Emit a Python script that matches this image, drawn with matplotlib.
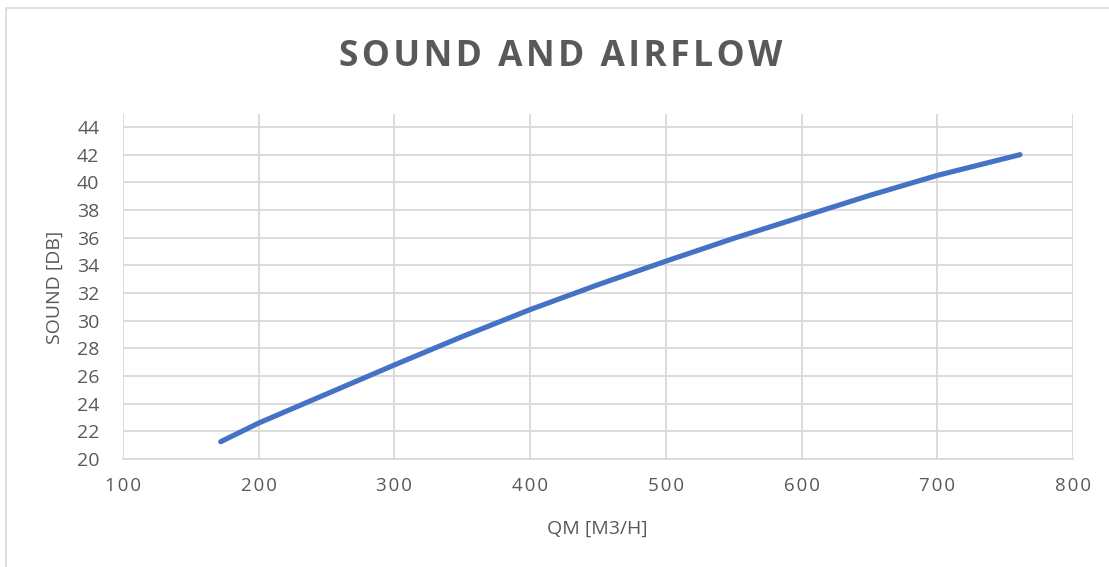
import matplotlib
matplotlib.use("Agg")
import matplotlib.pyplot as plt
from matplotlib.patches import Rectangle

# Data
airflow = [172, 200, 250, 300, 350, 400, 450, 500, 550, 600, 650, 700, 761]
sound = [21.25, 22.6, 24.7, 26.8, 28.85, 30.8, 32.6, 34.3, 35.95, 37.5, 39.05, 40.5, 42.0]
x_ticks = [100, 200, 300, 400, 500, 600, 700, 800]
y_ticks = [20, 22, 24, 26, 28, 30, 32, 34, 36, 38, 40, 42, 44]
title = "SOUND AND AIRFLOW"
x_label = "QM [M3/H]"
y_label = "SOUND [DB]"

W, H = 1109, 567
fig = plt.figure(figsize=(W / 100, H / 100), dpi=100)
fig.patch.set_facecolor("white")

grey_text = "#595959"
grid_col = "#d9d9d9"
fam = ["Open Sans", "DejaVu Sans"]

# outer chart border
fig.patches.append(Rectangle((6 / W, -0.1), 1.2, 1 - 8 / H + 0.1, transform=fig.transFigure,
                             fill=False, edgecolor=grid_col, linewidth=1.2))

left, right = 123 / W, 1073 / W
bottom, top = 1 - 459 / H, 1 - 114 / H
ax = fig.add_axes([left, bottom, right - left, top - bottom])

ax.plot(airflow, sound, color="#4472C4", linewidth=3.7, solid_capstyle="round",
        solid_joinstyle="round", zorder=3)

ax.set_xlim(100, 800)
ax.set_ylim(20, 44.94)
ax.set_xticks(x_ticks)
ax.set_yticks(y_ticks)

def spaced(s):
    return "\u200a".join(list(s))

ax.set_xticklabels([spaced(str(v)) for v in x_ticks], fontsize=13.5, color=grey_text, family=fam)
ax.set_yticklabels([str(v) for v in y_ticks], fontsize=14, color=grey_text, family=fam)
ax.tick_params(axis="both", length=0)
ax.tick_params(axis="x", pad=13)
ax.tick_params(axis="y", pad=17)

ax.grid(True, color=grid_col, linewidth=1.3)
ax.set_axisbelow(True)
for s in ["top", "right", "left"]:
    ax.spines[s].set_visible(False)
ax.spines["bottom"].set_color(grid_col)
ax.spines["bottom"].set_linewidth(1.3)

fig.text(597 / W, 1 - 529 / H, x_label, ha="center", va="center", fontsize=14,
         color=grey_text, family=fam)
fig.text(55 / W, 1 - 287 / H, y_label, ha="center", va="center", rotation=90,
         fontsize=14, color=grey_text, family=fam)
fig.text(561 / W, 1 - 57 / H, spaced(title), ha="center", va="center", fontsize=25.5,
         fontweight="bold", color=grey_text, family=fam)

fig.savefig("out.png", dpi=100, facecolor="white")
